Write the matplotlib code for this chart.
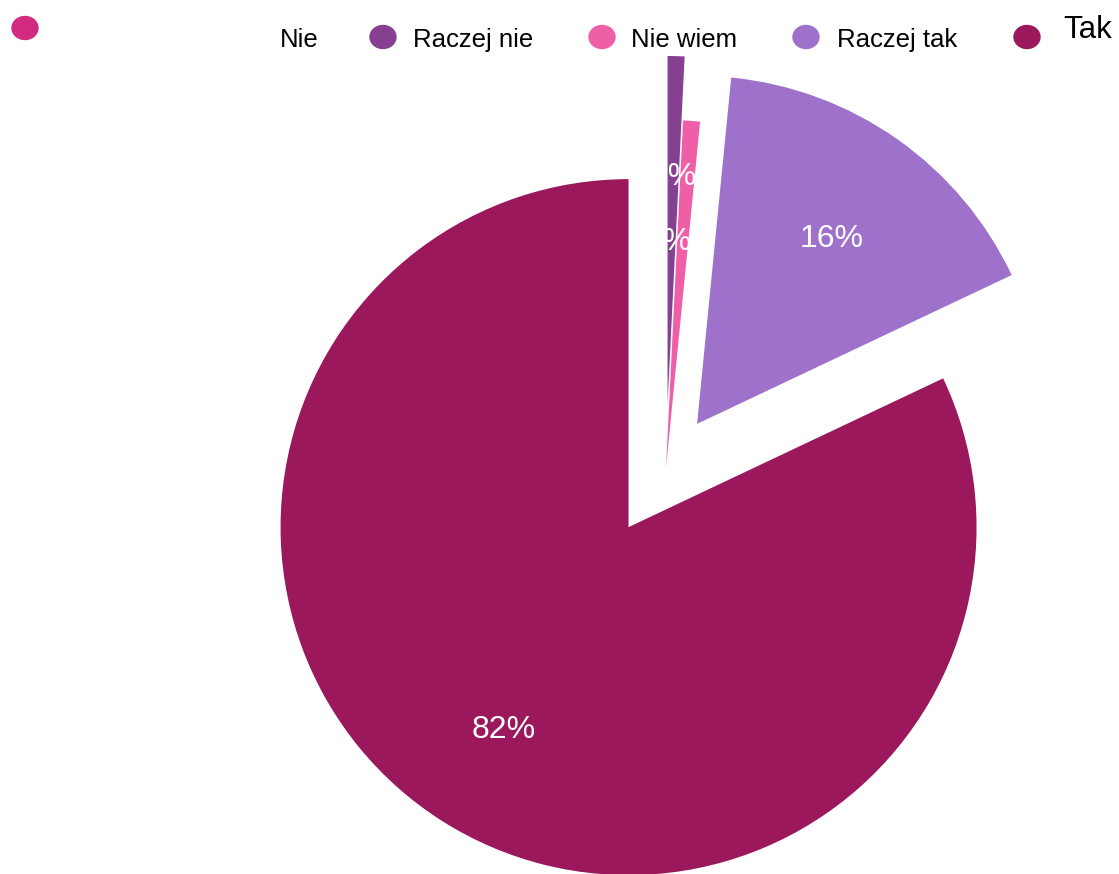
import matplotlib.pyplot as plt
from matplotlib.patches import Ellipse

plt.rcParams['font.family'] = ['Liberation Sans', 'DejaVu Sans']

# answer counts (slices start at 12 o'clock, clockwise)
labels = ['Nie', 'Raczej nie', 'Nie wiem', 'Raczej tak', 'Tak']
counts = [0, 1, 1, 21, 105]
colors = ['#D12B7F', '#85418F', '#EF5FA7', '#9E71CA', '#9B185D']

W, H = 1119, 874
fig = plt.figure(figsize=(W / 100, H / 100), dpi=100)
ax = fig.add_axes([0, 0, 1, 1])

# pie in pixel coordinates (y up)
cx, cy, r = 666, H - 468, 348
explode = [0, 64, 0, 54, 70]


def pct(p):
    if p < 0.5:
        return ''
    return '%d%%' % round(p)


wedges, texts, autotexts = ax.pie(
    counts, colors=colors, startangle=90, counterclock=False,
    center=(cx, cy), radius=r, explode=explode, autopct=pct,
    pctdistance=0.67, textprops=dict(color='white', fontsize=23))

# the "Nie wiem" label sits a bit further left in the original
autotexts[2].set_position((669, H - 236))
# labels sit a little lower than matplotlib's centre
for t in autotexts:
    x, y = t.get_position()
    t.set_position((x, y - 6))

ax.set_xlim(0, W)
ax.set_ylim(0, H)
ax.set_aspect('equal')
ax.axis('off')

# odd legend row: markers and labels are shifted by one
marker_pos = [(25, 28), (383, 37), (602, 37), (806, 37), (1027, 37)]
label_pos = [(280, 47), (413, 47), (631, 47), (837, 47), (1063, 38)]
label_size = [18.5, 18.5, 18.5, 18.5, 22.5]

for c, (mx, my) in zip(colors, marker_pos):
    ax.add_patch(Ellipse((mx, H - my), 26, 23, color=c, clip_on=False))

for lab, (lx, ly), fs in zip(labels, label_pos, label_size):
    ax.text(lx, H - ly, lab, fontsize=fs, color='black',
            ha='left', va='baseline')

fig.savefig('out.png', dpi=100)
